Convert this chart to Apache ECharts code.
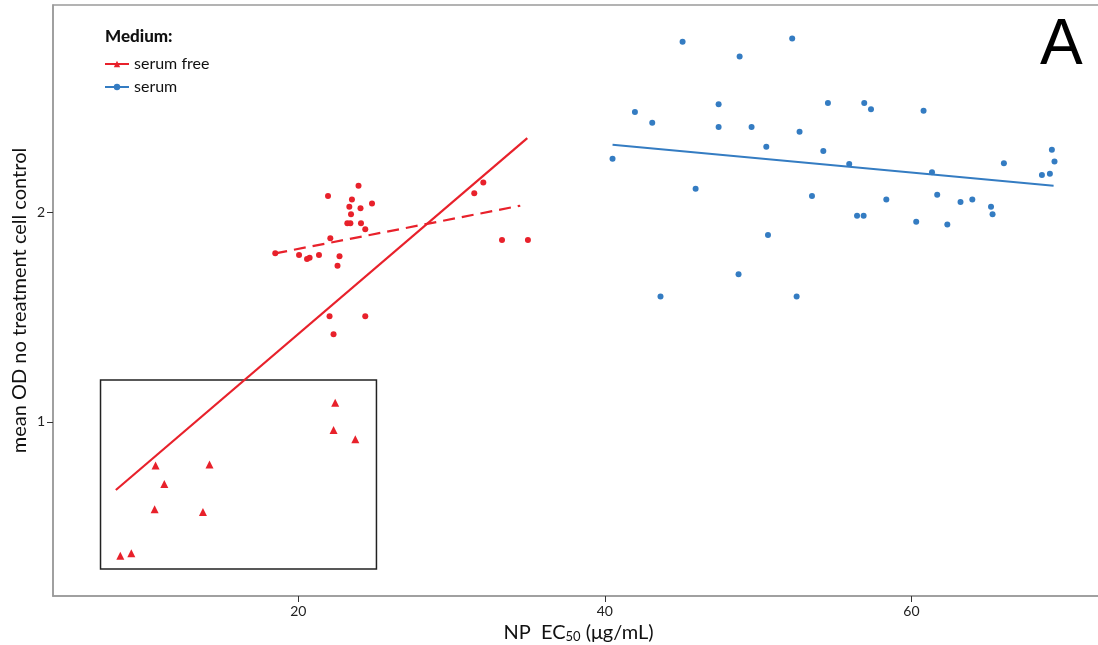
<!DOCTYPE html>
<html>
<head>
<meta charset="utf-8">
<script src="https://cdn.jsdelivr.net/npm/echarts@6/dist/echarts.min.js"></script>
<style>
  html, body { margin: 0; padding: 0; background: #fff; }
  #main { width: 1098px; height: 645px; }
</style>
</head>
<body>
<div id="main"></div>
<script>
// serum free, circles (NP EC50, mean OD)
var freeDots = [
    [23.93, 2.125], [21.94, 2.076], [23.50, 2.060], [23.33, 2.025], [24.06, 2.018],
    [24.81, 2.040], [23.44, 1.989], [23.20, 1.946], [23.40, 1.946], [24.09, 1.946],
    [24.37, 1.918], [22.09, 1.875], [18.50, 1.803], [20.05, 1.795], [20.57, 1.776],
    [20.74, 1.782], [21.35, 1.795], [22.69, 1.789], [22.56, 1.744], [32.07, 2.140],
    [31.48, 2.089], [33.29, 1.867], [34.98, 1.867], [22.04, 1.503], [24.37, 1.503],
    [22.30, 1.418]
];
// serum free, triangles
var freeTriangles = [
    [22.41, 1.092], [22.30, 0.962], [23.72, 0.918], [10.69, 0.792], [14.21, 0.797],
    [11.26, 0.705], [10.63, 0.584], [13.78, 0.571], [8.39, 0.363], [9.11, 0.375]
];
// serum
var serumDots = [
    [45.07, 2.811], [52.22, 2.827], [48.79, 2.741], [41.96, 2.476], [43.09, 2.425],
    [47.42, 2.513], [47.42, 2.405], [49.57, 2.405], [54.55, 2.519], [56.92, 2.519],
    [57.36, 2.490], [52.70, 2.382], [50.53, 2.311], [40.50, 2.254], [54.25, 2.290],
    [55.94, 2.229], [45.92, 2.111], [53.51, 2.076], [58.36, 2.060], [56.45, 1.982],
    [56.88, 1.982], [50.64, 1.890], [48.72, 1.703], [43.63, 1.597], [52.51, 1.597],
    [60.79, 2.482], [69.16, 2.297], [69.33, 2.240], [66.03, 2.232], [68.51, 2.176],
    [69.03, 2.182], [61.34, 2.189], [61.68, 2.082], [63.20, 2.048], [63.97, 2.060],
    [65.19, 2.025], [65.29, 1.989], [60.31, 1.954], [62.34, 1.940]
];
// fitted lines
var freeFitAll = [[8.1, 0.676], [34.94, 2.352]];
var freeFitDots = [[18.5, 1.803], [34.48, 2.030]];
var serumFit = [[40.5, 2.320], [69.27, 2.125]];
// box round the low values
var boxCorners = [[7.1, 0.30], [25.1, 1.20]];

var xTicks = [20, 40, 60];
var yTicks = [1, 2];

var RED = '#e8212b';
var BLUE = '#347cc2';
var AXIS = '#9a9a9a';

var myChart = echarts.init(document.getElementById('main'));
var option = {
    animation: false,
    textStyle: { fontFamily: 'Lato' },
    grid: {
        left: 53, top: 5, right: -6, bottom: 49,
        outerBoundsMode: 'none', containLabel: false,
        show: true, borderColor: AXIS, borderWidth: 1.5
    },
    legend: {
        orient: 'vertical',
        left: 99, top: 51,
        itemWidth: 24, itemHeight: 8, itemGap: 7,
        data: ['serum free', 'serum'],
        textStyle: { fontFamily: 'Lato', fontSize: 16, color: '#111' }
    },
    graphic: [
        {
            type: 'text', left: 105, top: 28,
            style: { text: 'Medium:', font: '900 17px Lato', fill: '#111' }
        },
        {
            type: 'text', left: 1040, top: 14,
            style: { text: 'A', font: '64px "Liberation Sans"', fill: '#000' }
        }
    ],
    xAxis: {
        type: 'value', min: 4, max: 72.56,
        name: '{a|NP  EC}{s|50}{a| (μg/mL)}',
        nameLocation: 'middle', nameGap: 26,
        nameTextStyle: {
            rich: {
                a: { fontFamily: 'Lato', fontSize: 20, color: '#111' },
                s: { fontFamily: 'Lato', fontSize: 13, color: '#111', verticalAlign: 'bottom', padding: [7, 0, 0, 0] }
            }
        },
        axisLine: { show: true, lineStyle: { color: AXIS, width: 1.5 } },
        axisTick: { show: true, length: 6, customValues: xTicks, lineStyle: { color: '#333' } },
        axisLabel: { customValues: xTicks, fontSize: 14, color: '#222', margin: 8 },
        splitLine: { show: false }
    },
    yAxis: {
        type: 'value', min: 0.171, max: 2.986,
        name: 'mean OD no treatment cell control',
        nameLocation: 'middle', nameGap: 23, nameMoveOverlap: false,
        nameTextStyle: { fontFamily: 'Lato', fontSize: 20, color: '#111' },
        axisLine: { show: true, lineStyle: { color: AXIS, width: 1.5 } },
        axisTick: { show: true, length: 6, customValues: yTicks, lineStyle: { color: '#333' } },
        axisLabel: { customValues: yTicks, fontSize: 14, color: '#222', margin: 8 },
        splitLine: { show: false }
    },
    series: [
        {
            name: 'serum free', type: 'line', data: freeFitAll,
            showSymbol: false, symbol: 'triangle', symbolSize: 7,
            itemStyle: { color: RED },
            lineStyle: { color: RED, width: 2.2 }
        },
        {
            name: 'serum free fit dots', type: 'line', data: freeFitDots,
            showSymbol: false,
            lineStyle: { color: RED, width: 2.2, type: [12, 7] }
        },
        {
            name: 'serum', type: 'line', data: serumFit,
            showSymbol: false, symbol: 'circle', symbolSize: 5,
            itemStyle: { color: BLUE },
            lineStyle: { color: BLUE, width: 2 }
        },
        {
            name: 'serum free dots', type: 'scatter', data: freeDots,
            symbolSize: 6, itemStyle: { color: RED, opacity: 1 }
        },
        {
            name: 'serum free triangles', type: 'scatter', data: freeTriangles,
            symbol: 'triangle', symbolSize: 8, itemStyle: { color: RED, opacity: 1 },
            markArea: {
                silent: true,
                itemStyle: { color: 'rgba(0,0,0,0)', borderColor: '#222', borderWidth: 1.5 },
                data: [[{ coord: boxCorners[0] }, { coord: boxCorners[1] }]]
            }
        },
        {
            name: 'serum dots', type: 'scatter', data: serumDots,
            symbolSize: 6, itemStyle: { color: BLUE, opacity: 1 }
        }
    ]
};

window.onresize = myChart.resize;
myChart.setOption(option);
</script>
</body>
</html>
